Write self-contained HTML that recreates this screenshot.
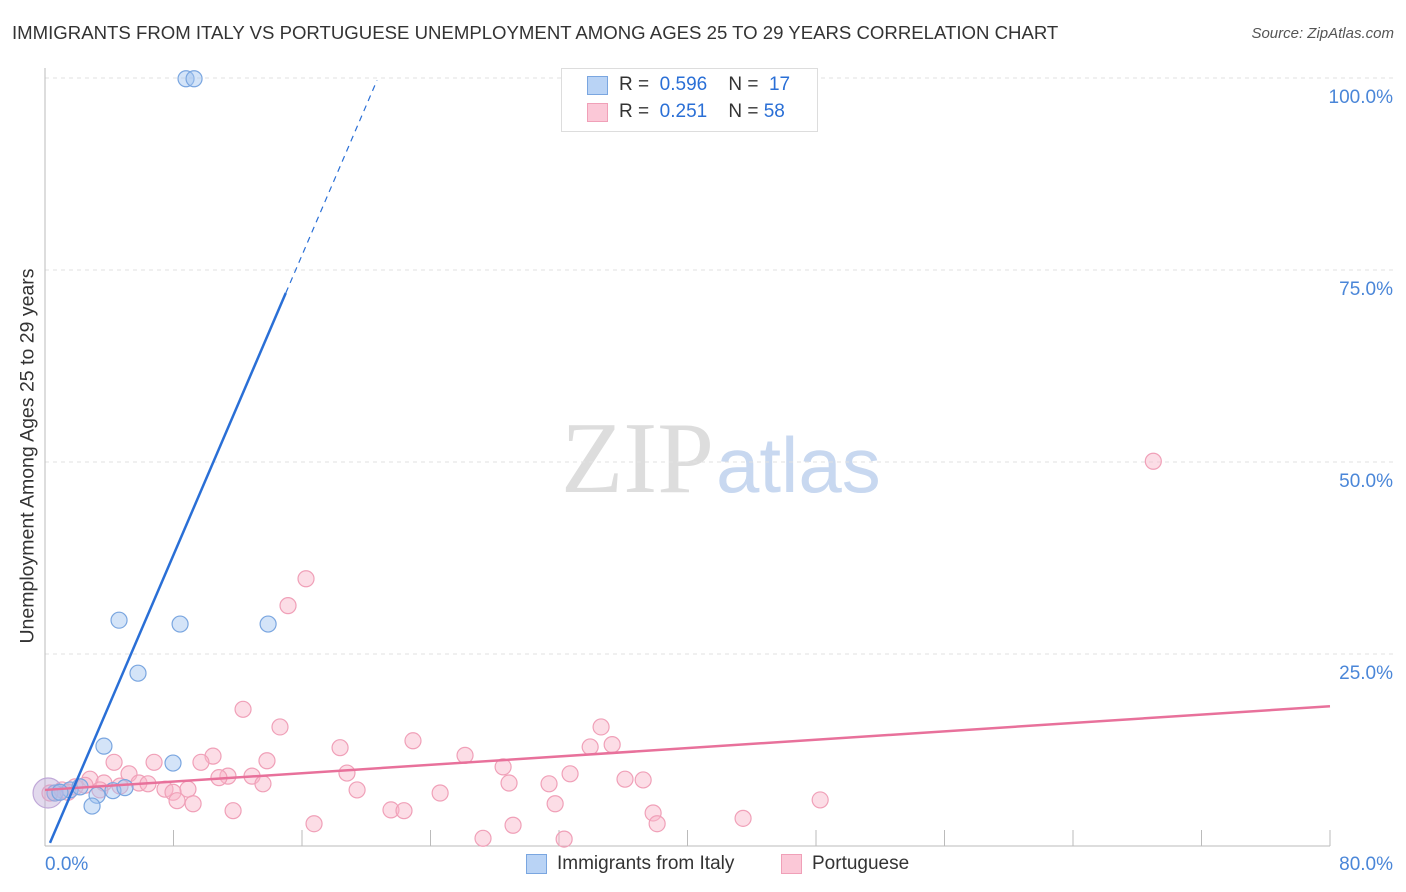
<!DOCTYPE html>
<html><head><meta charset="utf-8"><style>
body{margin:0;background:#fff;font-family:"Liberation Sans",sans-serif;}
#wrap{position:relative;width:1406px;height:892px;overflow:hidden;}
.t{position:absolute;white-space:nowrap;}
</style></head><body>
<div id="wrap">
<div class="t" style="left:12px;top:22px;font-size:18.6px;color:#333;">IMMIGRANTS FROM ITALY VS PORTUGUESE UNEMPLOYMENT AMONG AGES 25 TO 29 YEARS CORRELATION CHART</div>
<div class="t" style="right:12px;top:25px;font-size:15px;color:#555;font-style:italic;">Source: ZipAtlas.com</div>
<svg id="svg" width="1406" height="892" style="position:absolute;left:0;top:0">
<text x="714" y="492" font-family="Liberation Serif,serif" font-size="102" fill="#ddd" text-anchor="end">ZIP</text>
<text x="716" y="492" font-family="Liberation Sans,sans-serif" font-size="78" fill="#c8d8f0">atlas</text>
</svg>
<div class="t" style="left:28px;top:456px;transform:translate(-50%,-50%) rotate(-90deg);font-size:19.5px;color:#333;">Unemployment Among Ages 25 to 29 years</div>
<div style="position:absolute;left:561px;top:68px;width:255px;height:62px;border:1px solid #ddd;background:#fff;"></div>
<div style="position:absolute;left:587px;top:76px;width:19px;height:17px;background:#b9d3f5;border:1px solid #7aa6e0;"></div>
<div style="position:absolute;left:587px;top:103px;width:19px;height:17px;background:#fbc8d7;border:1px solid #f0a0b8;"></div>
<div class="t" style="left:619px;top:74px;font-size:19px;color:#333;">R = <span style="color:#2a6fd6">&nbsp;0.596</span>&nbsp;&nbsp;&nbsp; N = <span style="color:#2a6fd6">&nbsp;17</span></div>
<div class="t" style="left:619px;top:101px;font-size:19px;color:#333;">R = <span style="color:#2a6fd6">&nbsp;0.251</span>&nbsp;&nbsp;&nbsp; N = <span style="color:#2a6fd6">58</span></div>
<div style="position:absolute;left:526px;top:854px;width:19px;height:18px;background:#b9d3f5;border:1px solid #7aa6e0;"></div>
<div class="t" style="left:557px;top:853px;font-size:19px;color:#333;">Immigrants from Italy</div>
<div style="position:absolute;left:781px;top:854px;width:19px;height:18px;background:#fbc8d7;border:1px solid #f0a0b8;"></div>
<div class="t" style="left:812px;top:853px;font-size:19px;color:#333;">Portuguese</div>
</div>
<script>
const xTicks=[0,80];
const yTicks=[25,50,75,100];
const italyX=[8.78,9.28,4.61,8.41,13.89,5.79,3.67,7.97,0.62,1.56,2.18,3.24,2.93,4.23,4.98,0.19,0.93];
const italyY=[99.9,99.9,29.4,28.9,28.9,22.5,13.0,10.8,6.9,7.3,7.7,6.6,5.2,7.2,7.6,6.9,7.0];
const portX=[69.0,16.25,15.13,12.33,14.63,34.62,18.37,22.91,35.31,26.15,33.94,10.46,13.82,9.71,6.79,4.30,28.52,18.80,32.69,36.11,37.24,11.39,10.83,12.89,5.23,2.80,3.67,5.85,6.41,7.47,8.90,7.97,13.57,28.89,31.38,19.43,24.60,8.22,9.22,31.76,48.26,11.71,21.54,22.35,37.86,38.11,43.46,16.75,29.14,27.27,32.32,1.87,1.06,2.49,0.31,1.43,4.67,3.42];
const portY=[50.1,34.8,31.3,17.8,15.5,15.5,12.8,13.7,13.2,11.8,12.9,11.7,11.1,10.9,10.9,10.9,10.3,9.5,9.4,8.7,8.6,9.1,8.9,9.1,9.4,8.7,8.2,8.2,8.1,7.4,7.4,7.0,8.1,8.2,8.1,7.3,6.9,5.9,5.5,5.5,6.0,4.6,4.7,4.6,4.3,2.9,3.6,2.9,2.7,1.0,0.9,7.7,7.3,7.9,6.9,7.0,7.8,7.3];
const italyTrend=[0.31,0.4,20.67,99.7];
const portTrend=[0,7.3,80,18.2];
const X=v=>45+v*(1285/80);
const Y=v=>846-v*7.68;
const svg=document.getElementById('svg');
const NS='http://www.w3.org/2000/svg';
function mk(tag,attrs){const e=document.createElementNS(NS,tag);for(const k in attrs)e.setAttribute(k,attrs[k]);svg.appendChild(e);return e;}
yTicks.forEach(v=>{
 const g=mk('line',{x1:45,x2:1395,y1:Y(v),y2:Y(v),stroke:'#e2e2e2','stroke-dasharray':'4,4'});
 
 
 const t=mk('text',{x:1393,y:Y(v)+25,'text-anchor':'end','font-size':19,fill:'#4a86d8','font-family':'Liberation Sans,sans-serif'});
 t.textContent=v.toFixed(1)+'%';
 
 
});
const ax=mk('line',{x1:45,x2:45,y1:68,y2:846,stroke:'#bbb'});


const bx=mk('line',{x1:45,x2:1330,y1:846,y2:846,stroke:'#bbb'});


for(let i=1;i<=10;i++){const tk=mk('line',{x1:X(i*8),x2:X(i*8),y1:830,y2:846,stroke:'#bbb'});
 
 }
xTicks.forEach((v,i)=>{const t=mk('text',{x:i==0?45:1393,y:870,'text-anchor':i==0?'start':'end','font-size':19,fill:'#4a86d8','font-family':'Liberation Sans,sans-serif'});
 t.textContent=v.toFixed(1)+'%';
 
 });
portX.forEach((x,i)=>{const c=mk('circle',{cx:X(x),cy:Y(portY[i]),r:8,fill:'rgba(248,180,200,0.45)',stroke:'#f0a0b8','stroke-width':1.2});
 
 });
italyX.forEach((x,i)=>{const c=mk('circle',{cx:X(x),cy:Y(italyY[i]),r:i==15?15:8,fill:i==15?'rgba(190,170,215,0.45)':'rgba(160,196,240,0.45)',stroke:i==15?'#c0a8d8':'#7aa6e0','stroke-width':1.2});
 
 });
const pl=mk('line',{x1:X(portTrend[0]),y1:Y(portTrend[1]),x2:X(portTrend[2]),y2:Y(portTrend[3]),stroke:'#e8719b','stroke-width':2.5});


const [a,b,c,d]=italyTrend;const s=(d-b)/(c-a);const xs=a+(72-b)/s;
const bl=mk('line',{x1:X(a),y1:Y(b),x2:X(xs),y2:Y(72),stroke:'#2a6fd6','stroke-width':2.5});


const bd=mk('line',{x1:X(xs),y1:Y(72),x2:X(c),y2:Y(d),stroke:'#2a6fd6','stroke-width':1.2,'stroke-dasharray':'6,5'});


</script>
</body></html>
